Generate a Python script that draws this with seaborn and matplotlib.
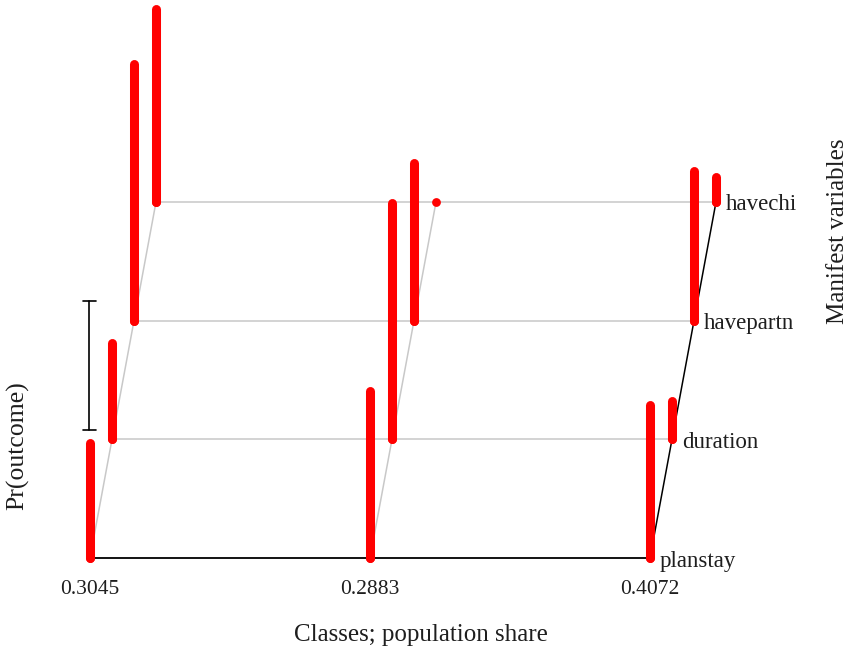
import matplotlib
matplotlib.use('Agg')
import matplotlib.pyplot as plt
import seaborn as sns
import pandas as pd

# population share of each latent class
class_share = ["0.3045", "0.2883", "0.4072"]
# manifest variables, front to back
variables = ["planstay", "duration", "havepartn", "havechi"]
# Pr(outcome) per class, ordered like `variables`
prob_class1 = [0.446, 0.372, 0.996, 0.748]
prob_class2 = [0.647, 0.915, 0.612, 0.0]
prob_class3 = [0.593, 0.147, 0.581, 0.097]

# oblique projection for depth (one step per variable)
depth_dx = 0.0786
depth_dy = 0.46

rows = []
for c, probs in enumerate([prob_class1, prob_class2, prob_class3]):
    for d, (var, p) in enumerate(zip(variables, probs)):
        rows.append({"cls": c, "var": var, "depth": d, "prob": p,
                     "x": c + d * depth_dx, "y0": d * depth_dy})
df = pd.DataFrame(rows)
df["y1"] = df["y0"] + df["prob"]

sns.set_theme(style="white")
plt.rcParams['font.family'] = ['Liberation Serif', 'DejaVu Serif']
txt_col = "#1e1e1e"

fig = plt.figure(figsize=(8.53, 6.51), dpi=100)
ax = fig.add_axes([0, 0, 1, 1])
ax.set_xlim(-90 / 280, (853 - 90) / 280)
ax.set_ylim((558 - 651) / 258, 558 / 258)
ax.axis("off")

# floor grid: lines across classes at each depth
for d, var in enumerate(variables):
    sub = df[df["depth"] == d]
    col = "black" if d == 0 else "#c8c8c8"
    sns.lineplot(data=sub, x="x", y="y0", color=col, lw=1.3 if d == 0 else 1.1,
                 ax=ax, legend=False, sort=True)
    last = sub[sub["cls"] == 2].iloc[0]
    ax.text(last["x"] + 0.035, last["y0"] - 3 / 258, var, fontsize=16.5,
            va="center", ha="left", color=txt_col)

# depth lines for each class
for c in range(3):
    sub = df[df["cls"] == c]
    col = "black" if c == 2 else "#c8c8c8"
    ax.plot(sub["x"], sub["y0"], color=col, lw=1.1, zorder=2)

# probability bars
ax.vlines(df["x"], df["y0"], df["y1"], color="red", lw=6.5,
          capstyle="round", zorder=3)
sns.scatterplot(data=df, x="x", y="y0", color="red", s=40, linewidth=0,
                ax=ax, zorder=4, legend=False)

# scale bar (0.5 on the probability axis)
sx = -0.002
sb0, sb1 = 0.496, 0.996
ax.plot([sx, sx], [sb0, sb1], color="black", lw=1.2)
for yy in (sb0, sb1):
    ax.plot([sx - 0.022, sx + 0.022], [yy, yy], color="black", lw=1.2)

# class share tick labels
for c, lab in enumerate(class_share):
    ax.text(c, -31 / 258, lab, fontsize=15.5, ha="center", va="center",
            color=txt_col)

fig.text(421 / 853, 1 - 635 / 651, "Classes; population share", fontsize=18,
         ha="center", va="center", color=txt_col)
fig.text(18 / 853, 1 - 446 / 651, "Pr(outcome)", fontsize=18.5, rotation=90,
         ha="center", va="center", color=txt_col)
fig.text(838 / 853, 1 - 231 / 651, "Manifest variables", fontsize=18,
         rotation=90, ha="center", va="center", color=txt_col)

fig.savefig("out.png", dpi=100)
plt.close(fig)
